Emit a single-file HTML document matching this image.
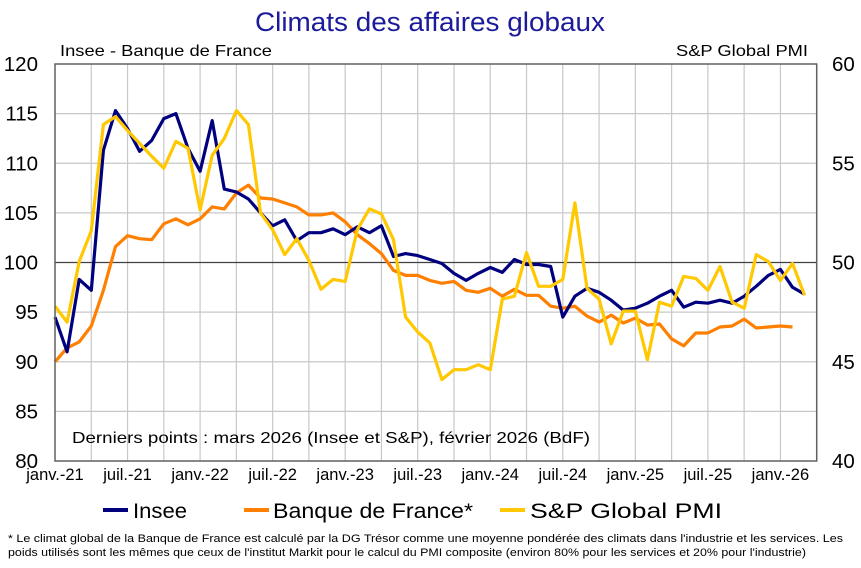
<!DOCTYPE html>
<html><head><meta charset="utf-8"><style>
body{margin:0;background:#fff;}
svg text{font-family:"Liberation Sans",sans-serif;}
</style></head><body>
<svg id="chart" width="861" height="563" viewBox="0 0 861 563" xmlns="http://www.w3.org/2000/svg">
<text x="255" y="31" textLength="350" lengthAdjust="spacingAndGlyphs" font-size="27" fill="#1a1a9a">Climats des affaires globaux</text>
<text x="60" y="56" textLength="212" lengthAdjust="spacingAndGlyphs" font-size="16" fill="#000">Insee - Banque de France</text>
<text x="676" y="56" textLength="132" lengthAdjust="spacingAndGlyphs" font-size="16" fill="#000">S&amp;P Global PMI</text>
<g id="grid"></g>
<g id="series"></g>
<g id="axes"></g>
<text x="72" y="443" textLength="518" lengthAdjust="spacingAndGlyphs" font-size="16" fill="#000">Derniers points : mars 2026 (Insee et S&amp;P), février 2026 (BdF)</text>
<g>
<g><line x1="103" y1="510" x2="128" y2="510" stroke="#00007f" stroke-width="4"/><text x="133" y="518" textLength="54" lengthAdjust="spacingAndGlyphs" font-size="21">Insee</text></g>
<g><line x1="244" y1="510" x2="269" y2="510" stroke="#ff7f00" stroke-width="4"/><text x="273" y="518" textLength="200" lengthAdjust="spacingAndGlyphs" font-size="21">Banque de France*</text></g>
<g><line x1="500" y1="510" x2="525" y2="510" stroke="#ffc800" stroke-width="4"/><text x="530" y="518" textLength="192" lengthAdjust="spacingAndGlyphs" font-size="21">S&amp;P Global PMI</text></g>
</g>
<text x="8" y="542" textLength="835" lengthAdjust="spacingAndGlyphs" font-size="11" fill="#000">* Le climat global de la Banque de France est calculé par la DG Trésor comme une moyenne pondérée des climats dans l'industrie et les services. Les</text>
<text x="8" y="556" textLength="798" lengthAdjust="spacingAndGlyphs" font-size="11" fill="#000">poids utilisés sont les mêmes que ceux de l'institut Markit pour le calcul du PMI composite (environ 80% pour les services et 20% pour l'industrie)</text>
</svg>
<script>
const xLabels=["janv.-21","juil.-21","janv.-22","juil.-22","janv.-23","juil.-23","janv.-24","juil.-24","janv.-25","juil.-25","janv.-26"];
const leftTicks=[80,85,90,95,100,105,110,115,120];
const rightTicks=[40,45,50,55,60];
const insee=[94.5,91.0,98.3,97.2,111.3,115.3,113.5,111.2,112.3,114.5,115.0,111.5,109.2,114.3,107.4,107.1,106.4,105.0,103.7,104.3,102.2,103.0,103.0,103.4,102.8,103.6,103.0,103.7,100.6,100.9,100.7,100.3,99.9,98.9,98.2,98.9,99.5,99.0,100.3,99.8,99.8,99.6,94.5,96.6,97.4,97.0,96.2,95.2,95.4,95.9,96.6,97.2,95.5,96.0,95.9,96.2,95.9,96.6,97.6,98.7,99.3,97.5,96.8];
const bdf=[90.0,91.4,92.0,93.6,97.2,101.6,102.7,102.4,102.3,103.9,104.4,103.8,104.4,105.6,105.4,107.0,107.8,106.5,106.4,106.0,105.6,104.8,104.8,105.0,104.1,102.8,101.9,100.9,99.2,98.7,98.7,98.2,97.9,98.1,97.2,97.0,97.4,96.6,97.3,96.7,96.7,95.6,95.4,95.6,94.6,94.0,94.7,93.9,94.4,93.7,93.8,92.3,91.6,92.9,92.9,93.5,93.6,94.3,93.4,93.5,93.6,93.5];
const pmi=[47.8,47.0,50.05,51.6,56.95,57.35,56.65,56.0,55.35,54.75,56.1,55.75,52.65,55.4,56.25,57.65,56.95,52.5,51.65,50.4,51.2,50.1,48.65,49.15,49.05,51.65,52.7,52.45,51.15,47.25,46.5,45.95,44.1,44.6,44.6,44.85,44.6,48.15,48.3,50.5,48.8,48.8,49.15,53.0,48.7,48.15,45.9,47.55,47.55,45.1,48.0,47.8,49.3,49.2,48.6,49.8,48.0,47.7,50.4,50.05,49.1,49.95,48.35];

const NS="http://www.w3.org/2000/svg";
const L=55,R=816.7,T=64,B=461,N=63;
const xs=i=>L+(R-L)*i/N;
const yL=v=>B-(v-80)/40*(B-T);
const yR=v=>B-(v-40)/20*(B-T);
function mk(tag,attrs,parent){const e=document.createElementNS(NS,tag);for(const k in attrs)e.setAttribute(k,attrs[k]);parent.appendChild(e);return e;}
const grid=document.getElementById('grid'),axes=document.getElementById('axes'),ser=document.getElementById('series');
for(let m=3;m<N;m+=3){const l=mk('line',{x1:xs(m),x2:xs(m),y1:T,y2:B,stroke:'#c8c8c8','stroke-width':1.2},grid);

}
leftTicks.forEach(v=>{if(v!==80&&v!==120&&v!==100){const l=mk('line',{x1:L,x2:R,y1:yL(v),y2:yL(v),stroke:'#c8c8c8','stroke-width':1.2},grid);

}
const t=mk('text',{x:38,y:yL(v)+7,'text-anchor':'end','font-size':20.5},axes);t.textContent=v;

});
rightTicks.forEach(v=>{const t=mk('text',{x:832,y:yR(v)+7,'font-size':20.5},axes);t.textContent=v;

});
xLabels.forEach((s,k)=>{const t=mk('text',{x:xs(k*6),y:480,'text-anchor':'middle','font-size':16.5},axes);t.textContent=s;

});
const ref=mk('line',{x1:L,x2:R,y1:yL(100),y2:yL(100),stroke:'#404040','stroke-width':1.3},grid);


const fr=mk('path',{d:`M${L},${T}H${R}V${B}H${L}Z`,fill:'none',stroke:'#606060','stroke-width':1.5},axes);


function line(arr,f,color,name){const d=arr.map((v,i)=>(i?'L':'M')+xs(i).toFixed(1)+','+f(v).toFixed(1)).join('');
const p=mk('path',{d,fill:'none',stroke:color,'stroke-width':3.2,'stroke-linejoin':'round'},ser);

}
line(bdf,yL,'#ff7f00','bdf-line');
line(insee,yL,'#00007f','insee-line');
line(pmi,yR,'#ffc800','pmi-line');
</script>
</body></html>
